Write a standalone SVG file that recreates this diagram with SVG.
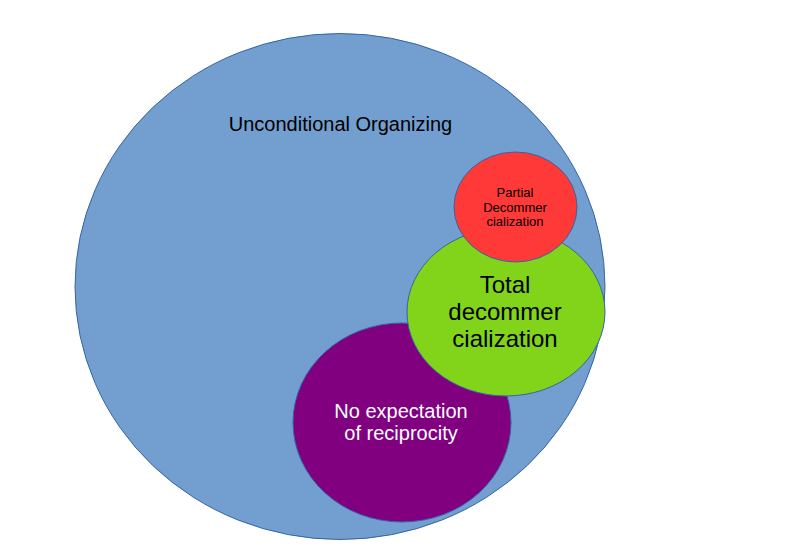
<svg xmlns="http://www.w3.org/2000/svg" width="794" height="559" viewBox="0 0 794 559">
<style>
text{font-family:"Liberation Sans",Arial,sans-serif;text-anchor:middle}
.e{stroke:#3465a4;stroke-width:1}
</style>
<rect width="794" height="559" fill="#ffffff"/>
<g id="unconditional">
<ellipse class="e" cx="340" cy="286.5" rx="265" ry="253" fill="#729fcf"/>
<text x="340.5" y="131" font-size="20" fill="#000000">Unconditional Organizing</text>
</g>
<g id="noexpectation">
<ellipse class="e" cx="402" cy="422.5" rx="109" ry="99.5" fill="#800080"/>
<text x="401" y="418" font-size="20" fill="#ffffff">No expectation</text>
<text x="401" y="440" font-size="20" fill="#ffffff">of reciprocity</text>
</g>
<g id="total">
<ellipse class="e" cx="506" cy="312" rx="99" ry="84" fill="#81d41a"/>
<text x="505" y="293" font-size="24" fill="#000000">Total</text>
<text x="505" y="320" font-size="24" fill="#000000">decommer</text>
<text x="505" y="347" font-size="24" fill="#000000">cialization</text>
</g>
<g id="partial">
<ellipse class="e" cx="515.5" cy="207" rx="61.5" ry="55" fill="#ff3838"/>
<text x="515" y="197" font-size="13" fill="#000000">Partial</text>
<text x="515" y="212" font-size="13" fill="#000000">Decommer</text>
<text x="515" y="226" font-size="13" fill="#000000">cialization</text>
</g>
<g id="connectors"></g>
</svg>
